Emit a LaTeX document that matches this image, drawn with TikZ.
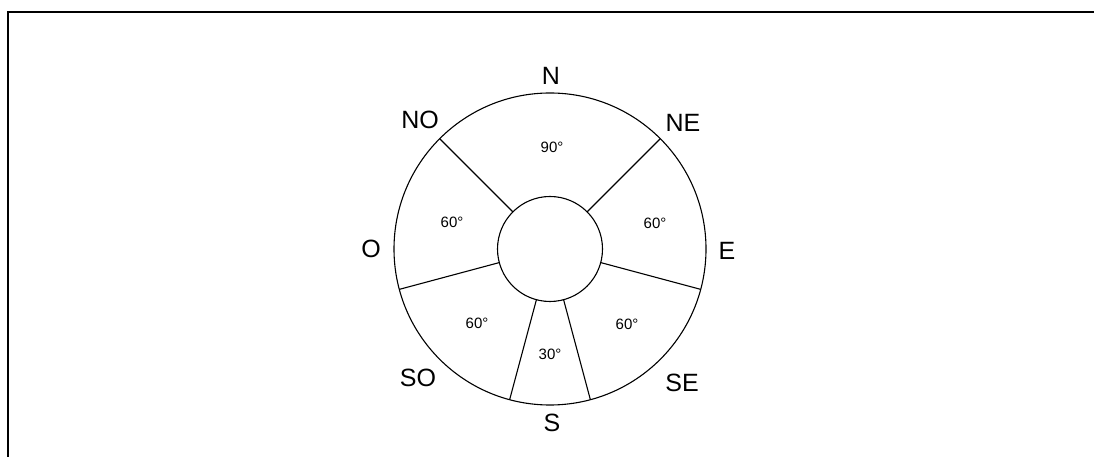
\documentclass[tikz,border=0pt]{standalone}
\usepackage{fontspec}
\newfontfamily\labfont{Liberation Sans}
\begin{document}
\begin{tikzpicture}[x=1pt,y=1pt,
  ring/.style={circle,draw,line width=1.1pt,inner sep=0pt,outer sep=0pt},
  spoke/.style={line width=1.1pt},
  dir/.style={font=\labfont\fontsize{25}{25}\selectfont,inner sep=0pt},
  deg/.style={font=\labfont\fontsize{15}{15}\selectfont,inner sep=0pt}]
\useasboundingbox (0,0) rectangle (1094,457);
% frame
\draw[line width=2.2pt] (8,-2) -- (8,445) -- (1096,445);
% circles
\coordinate (c) at (550,208);
\node[ring,minimum size=312pt] (outer) at (c) {};
\node[ring,minimum size=105pt] (inner) at (c) {};
% spokes
\foreach \a in {45,135,195,255,285,345}
  \draw[spoke] (inner.\a) -- (outer.\a);
% direction labels
\node[dir] (lN)  at (551,381) {N};
\node[dir] (lNO) at (420,337) {NO};
\node[dir] (lNE) at (683,334) {NE};
\node[dir] (lO)  at (371,208) {O};
\node[dir] (lE)  at (727,206) {E};
\node[dir] (lSO) at (418,79) {SO};
\node[dir] (lSE) at (682,74) {SE};
\node[dir] (lS)  at (552,34) {S};
% sector angles
\node[deg] (d90) at (552,310) {90°};
\node[deg] (dW)  at (452,235) {60°};
\node[deg] (dE)  at (655,234) {60°};
\node[deg] (dSW) at (477,134) {60°};
\node[deg] (dSE) at (627,133) {60°};
\node[deg] (d30) at (550,103) {30°};
\end{tikzpicture}
\end{document}
